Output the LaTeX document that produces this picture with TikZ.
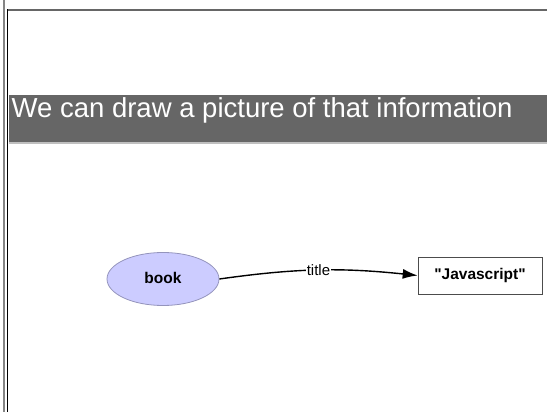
\documentclass[tikz,border=0pt]{standalone}
\usepackage{fontspec}
\setmainfont{Liberation Sans}
\usetikzlibrary{arrows.meta,shapes.geometric}
\definecolor{bannergray}{HTML}{666666}
\definecolor{lavender}{HTML}{CCCCFF}
\definecolor{lavenderline}{HTML}{9494BC}

\begin{document}
\begin{tikzpicture}[x=1pt,y=1pt,
    resource/.style={ellipse, draw=lavenderline, fill=lavender, thick,
      minimum width=112pt, minimum height=53pt, inner sep=0pt,
      font=\fontsize{15.5}{18}\selectfont\bfseries},
    literal/.style={rectangle, draw=black!70, fill=white, semithick,
      minimum width=124pt, minimum height=37pt, inner sep=0pt,
      font=\fontsize{15.5}{18}\selectfont\bfseries},
    property/.style={line width=1.4pt, -{Latex[length=15pt,width=10pt]}}]
    \useasboundingbox (0,0) rectangle (547,412);
    \fill[white] (0,0) rectangle (547,412);

    \draw[bannergray!80, line width=2pt] (3.5,0) -- (3.5,412);
    \draw[bannergray, line width=2pt] (7,401.5) -- (547,401.5);
    \draw[black, line width=1.5pt] (7.7,0) -- (7.7,402.5);

    \fill[bannergray] (8.5,270) rectangle (547,317);
    \draw[black!25, line width=1.5pt] (8.5,269) -- (547,269);
    \node[anchor=base west, inner sep=0pt, text=white,
      font=\fontsize{27.5}{33}\selectfont] (heading) at (11.5,294)
      {We can draw a picture of that information};


\node[resource] (book) at (163,133) {\raisebox{3pt}{book}};

\node[literal] (javascript) at (480,136.5) {\textquotedbl Javascript\textquotedbl};

\draw[property] (book.east) to[bend left=7]
  node[fill=white, inner sep=1pt, font=\fontsize{15}{18}\selectfont]{title}
  (javascript.west);



\end{tikzpicture}
\end{document}
